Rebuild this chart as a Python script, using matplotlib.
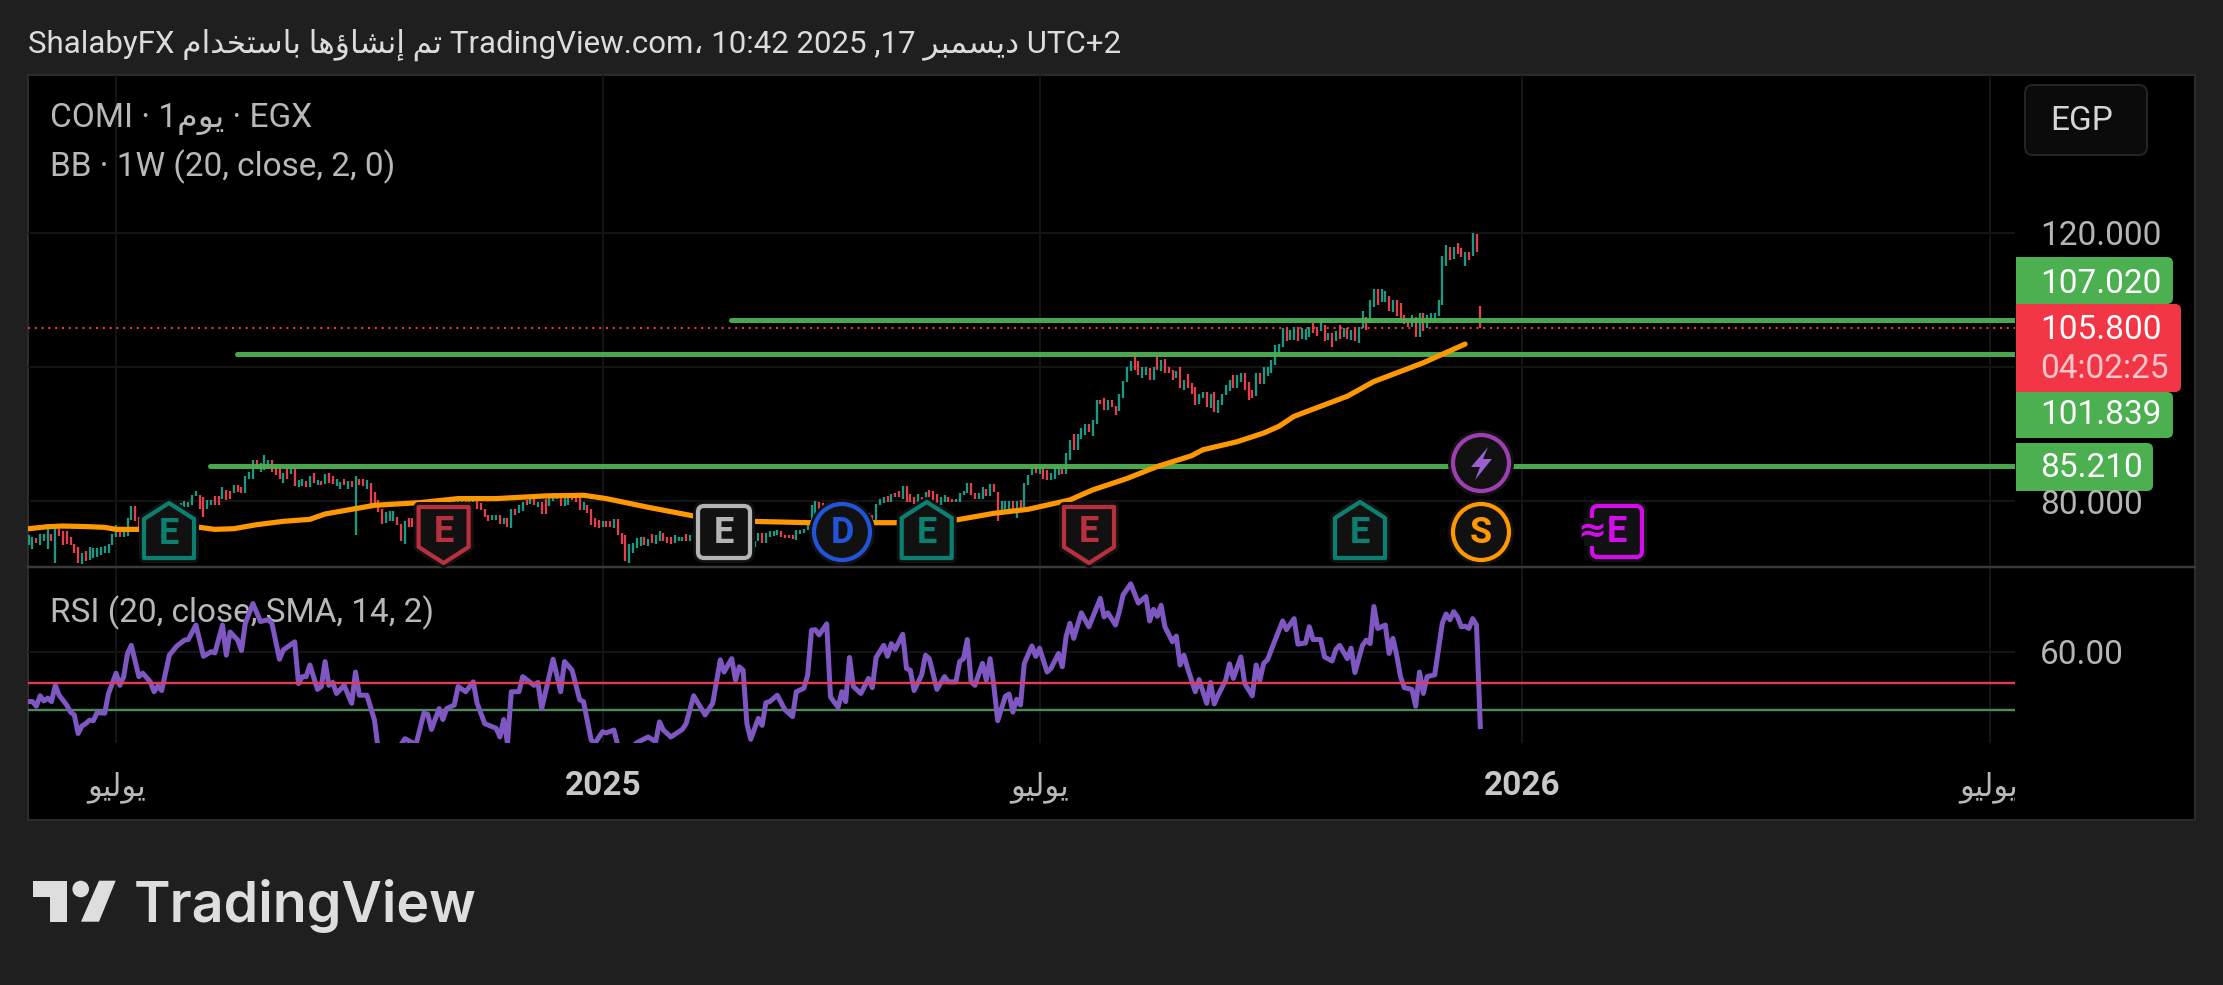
#!/usr/bin/env python3
"""COMI daily chart with RSI pane, TradingView dark snapshot"""

import matplotlib
matplotlib.use("Agg")
import matplotlib.pyplot as plt
from matplotlib.patches import Circle, FancyBboxPatch, Polygon, Rectangle

plt.rcParams['font.family'] = ['Roboto', 'DejaVu Sans']

W, H = 2223, 985
PX = 72 / 100  # one pixel in points at dpi 100

# --- data -------------------------------------------------------------
highs = [
    74.9, 74.5, 74.4, 75.0, 75.0, 75.7, 75.0, 75.7, 75.7, 75.4,
    75.5, 74.6, 73.5, 73.0, 72.1, 72.4, 73.0, 72.9, 72.9, 73.1,
    73.2, 73.5, 75.0, 76.4, 76.0, 75.4, 77.4, 79.2, 79.2, 77.6,
    77.4, 77.6, 77.9, 78.1, 78.3, 78.6, 78.7, 79.0, 79.1, 79.2,
    79.6, 80.0, 79.8, 80.8, 81.4, 80.8, 80.5, 80.1, 80.1, 80.7,
    80.7, 82.0, 81.6, 81.4, 82.3, 82.3, 82.1, 83.7, 84.3, 86.0,
    86.0, 85.6, 86.8, 86.0, 86.0, 85.1, 84.8, 84.2, 84.8, 84.8,
    84.8, 83.1, 83.2, 83.0, 83.7, 84.2, 83.1, 83.0, 84.0, 84.2,
    83.7, 83.3, 82.8, 83.2, 83.0, 83.0, 83.7, 83.3, 83.3, 83.1,
    82.6, 81.3, 80.1, 78.8, 78.3, 78.5, 78.5, 77.6, 76.5, 77.0,
    77.4, 77.4, 77.6, 77.8, 78.1, 78.3, 78.7, 78.8, 79.1, 79.3,
    79.6, 79.8, 80.1, 80.4, 80.5, 80.2, 80.6, 80.7, 80.1, 79.6,
    78.8, 77.8, 77.8, 77.8, 77.8, 77.4, 77.4, 78.7, 78.7, 79.3,
    79.8, 80.1, 80.2, 80.2, 79.8, 79.8, 80.2, 80.5, 81.1, 81.1,
    81.1, 81.2, 81.2, 81.2, 81.0, 80.5, 79.8, 79.3, 78.8, 77.4,
    77.1, 77.0, 76.9, 76.9, 77.2, 77.2, 75.1, 74.9, 73.5, 73.6,
    74.4, 74.5, 74.5, 74.2, 75.0, 74.9, 75.5, 75.1, 74.5, 74.5,
    74.9, 74.5, 74.5, 75.0, 74.9, 75.5, 75.4, 75.5, 75.4, 75.4,
    75.6, 75.6, 75.7, 75.2, 75.4, 75.4, 75.2, 74.7, 74.5, 74.2,
    74.2, 74.0, 75.1, 75.1, 75.2, 75.4, 75.4, 75.6, 75.5, 74.9,
    74.9, 74.9, 75.6, 75.6, 75.7, 77.1, 79.3, 79.9, 79.8, 79.7,
    79.7, 79.3, 79.1, 78.7, 78.3, 78.1, 77.8, 77.6, 77.4, 77.4,
    77.4, 78.1, 77.8, 79.5, 80.2, 80.5, 80.7, 81.0, 81.2, 81.4,
    82.2, 82.2, 81.0, 80.6, 81.0, 80.5, 81.3, 81.6, 81.5, 81.0,
    80.6, 80.8, 80.5, 80.2, 80.3, 81.2, 81.5, 82.7, 82.7, 81.1,
    81.1, 82.0, 81.8, 82.5, 82.5, 81.3, 80.0, 80.0, 80.0, 80.0,
    80.0, 80.1, 82.7, 83.8, 85.3, 85.5, 85.1, 84.8, 84.6, 84.2,
    84.8, 84.8, 84.8, 87.1, 89.1, 90.0, 90.0, 90.8, 91.5, 91.5,
    92.0, 95.0, 95.1, 95.3, 95.0, 95.1, 94.1, 95.9, 97.9, 99.9,
    100.9, 102.1, 100.9, 99.9, 99.9, 99.8, 100.0, 101.5, 101.0, 101.1,
    100.0, 99.5, 99.4, 100.0, 98.1, 98.9, 97.6, 97.0, 96.0, 96.3,
    96.3, 95.9, 96.3, 95.1, 96.0, 97.3, 98.0, 98.8, 98.8, 99.1,
    99.1, 97.8, 96.5, 99.1, 99.1, 99.9, 99.9, 101.0, 103.3, 103.4,
    105.8, 105.8, 105.5, 105.9, 105.9, 105.8, 105.6, 106.0, 106.6, 105.9,
    107.2, 106.2, 105.0, 105.0, 105.3, 106.2, 105.8, 105.8, 105.5, 106.0,
    105.9, 108.4, 107.4, 110.0, 111.7, 111.7, 111.6, 111.4, 110.6, 110.0,
    110.0, 109.5, 107.8, 107.0, 107.7, 107.4, 108.0, 108.0, 107.7, 108.0,
    108.0, 110.0, 116.6, 118.2, 117.9, 117.9, 118.5, 117.7, 117.2, 117.2,
    120.0, 119.9, 109.1,
]
lows = [
    73.4, 72.7, 73.6, 73.4, 74.0, 72.7, 73.9, 70.7, 74.7, 73.4,
    73.5, 73.4, 72.1, 70.6, 70.5, 71.0, 71.1, 71.4, 71.5, 71.9,
    72.1, 72.1, 73.4, 74.6, 74.6, 74.6, 74.7, 77.1, 76.9, 75.4,
    75.9, 76.4, 76.5, 76.7, 77.0, 77.2, 77.6, 77.8, 78.0, 78.2,
    78.6, 79.1, 79.0, 79.3, 80.7, 78.7, 77.6, 78.7, 79.3, 79.3,
    79.3, 80.3, 80.1, 80.2, 81.2, 81.3, 81.2, 81.2, 83.3, 83.3,
    84.8, 84.3, 84.6, 84.8, 84.3, 83.8, 83.3, 82.7, 83.2, 84.0,
    82.2, 82.1, 82.2, 82.1, 82.0, 82.7, 82.3, 82.3, 82.5, 82.6,
    82.5, 82.2, 81.7, 82.3, 81.8, 82.1, 74.9, 82.3, 82.2, 81.8,
    79.5, 79.1, 78.3, 76.5, 76.7, 76.9, 77.0, 76.4, 74.0, 73.5,
    76.0, 76.0, 76.1, 76.4, 76.9, 77.1, 77.4, 77.6, 77.8, 78.1,
    78.3, 78.7, 79.1, 79.6, 79.5, 79.3, 79.3, 79.8, 78.8, 78.6,
    77.6, 77.0, 77.1, 77.1, 76.5, 76.5, 76.0, 75.9, 77.8, 78.2,
    78.5, 79.3, 79.5, 79.3, 79.1, 78.0, 78.0, 79.2, 80.0, 80.3,
    79.2, 79.2, 79.3, 80.1, 79.8, 78.6, 78.6, 78.1, 76.4, 76.0,
    75.9, 76.1, 76.0, 76.0, 75.9, 74.9, 73.5, 71.0, 70.7, 72.1,
    72.9, 73.2, 73.4, 73.2, 73.7, 73.5, 74.0, 73.9, 73.6, 73.5,
    73.7, 73.9, 73.9, 73.9, 74.0, 74.5, 74.2, 74.4, 74.4, 74.2,
    74.5, 74.5, 74.6, 74.1, 74.2, 74.4, 74.2, 73.9, 73.7, 73.4,
    73.1, 73.0, 73.9, 73.7, 73.7, 74.5, 74.7, 74.9, 74.5, 74.4,
    74.4, 74.2, 74.1, 75.0, 75.1, 75.6, 76.4, 77.4, 78.6, 78.6,
    78.8, 78.1, 77.8, 77.4, 77.1, 76.9, 76.6, 76.4, 76.2, 76.4,
    76.5, 76.9, 76.9, 77.1, 79.3, 79.7, 79.8, 79.8, 80.5, 80.6,
    80.2, 79.8, 79.8, 79.5, 79.8, 79.7, 80.3, 80.5, 80.1, 79.6,
    79.3, 79.8, 79.8, 79.8, 79.8, 79.8, 80.8, 81.2, 80.8, 80.2,
    80.3, 80.3, 80.7, 80.7, 81.3, 77.0, 77.8, 78.3, 78.5, 78.3,
    77.4, 78.3, 79.0, 82.3, 83.8, 84.1, 84.0, 83.3, 83.1, 83.1,
    83.3, 83.8, 84.0, 84.0, 86.1, 87.6, 87.6, 89.2, 89.8, 90.3,
    89.6, 91.5, 94.4, 93.5, 93.5, 94.0, 92.8, 93.4, 95.4, 97.8,
    99.4, 99.5, 98.8, 98.3, 98.8, 98.1, 98.1, 99.5, 99.4, 99.0,
    99.0, 98.1, 98.3, 96.9, 96.5, 96.9, 95.9, 94.3, 94.5, 95.3,
    94.0, 93.9, 93.3, 93.1, 94.3, 95.8, 96.4, 96.8, 96.8, 97.8,
    96.5, 95.0, 95.4, 95.6, 97.4, 97.4, 98.6, 99.1, 100.3, 102.0,
    103.0, 103.9, 104.0, 104.0, 103.9, 104.1, 104.0, 104.5, 105.0, 104.6,
    105.3, 103.9, 104.0, 103.0, 103.8, 104.1, 104.4, 104.1, 104.0, 103.9,
    103.6, 105.8, 105.5, 106.6, 109.0, 109.2, 109.7, 109.7, 108.4, 108.2,
    107.6, 106.8, 106.4, 105.9, 105.9, 104.4, 104.4, 105.3, 105.8, 107.0,
    107.0, 107.6, 109.2, 115.0, 116.0, 116.1, 116.9, 116.4, 115.1, 116.0,
    116.5, 117.1, 105.8,
]
bar_dirs = (
    "ggrgggrgrr" "rrrrgrgggg" "ggggrgggrr" "ggrggrggrg" "gggggrrggr"
    "rgrrgrrggg" "rgggrrrgrg" "rggrgrgrgr" "rggrgrgrrg" "rrrrgggrrg"
    "rrgrggrggr" "gggggrggrr" "rrggrgrgrg" "grgrgrrggg" "rggrrrgrrr"
    "rgrrgrrrgg" "ggrgrggrrr" "gggrggggrg" "grgrrgrrrr" "rggrggggrr"
    "rrggggggrr" "grrrrgrrrg" "rgrgggrgrr" "grrrgrgrrr" "ggrrggggrr"
    "ggrgrrgggr" "grgggrgrrg" "ggrggrgggr" "ggrrgrrggg" "grrggrgrgr"
    "rrgrgrrrgg" "rgrggggrgg" "rrrgrggggg" "grggrgggrr" "grgrgrgrgr"
    "ggrggrggrg" "rrrrgrgrgg" "ggggrgrrgr" "grr"
)

# weekly Bollinger basis, bar index and price
bb_idx = [0, 5, 9, 16, 20, 23, 30, 45, 49, 54, 60, 67, 74, 78, 85, 91, 97,
          103, 113, 123, 136, 146, 152, 163, 175, 190, 198, 205, 222, 228,
          244, 254, 263, 274, 280, 289, 297, 306, 309, 318, 325, 329, 333,
          347, 354, 367, 378]
bb_val = [75.8, 76.1, 76.2, 76.1, 76.0, 75.7, 75.7, 76.0, 75.7, 75.8, 76.4,
          76.9, 77.2, 78.0, 78.7, 79.3, 79.5, 79.7, 80.3, 80.3, 80.7, 80.8,
          80.3, 79.0, 77.7, 76.9, 76.8, 76.7, 76.7, 76.7, 77.1, 78.1, 78.7,
          80.1, 81.6, 83.3, 85.1, 86.7, 87.6, 88.8, 90.1, 91.1, 92.6, 95.6,
          97.8, 100.6, 103.4]

rsi_idx = [
    0, 1, 2, 3, 4, 5, 6, 7, 8, 10, 11, 12, 13, 14, 15, 16, 17, 18, 20, 21,
    23, 24, 25, 26, 27, 29, 30, 32, 33, 34, 35, 37, 39, 41, 42, 44, 46, 48, 49, 51,
    52, 53, 55, 56, 57, 59, 61, 63, 64, 66, 67, 70, 71, 72, 73, 74, 76, 77, 78, 79,
    80, 81, 83, 85, 86, 87, 89, 91, 92, 95, 99, 101, 102, 104, 105, 106, 108, 109, 110, 112,
    113, 115, 117, 118, 120, 123, 124, 125, 126, 127, 129, 130, 133, 134, 135, 138, 140, 141, 143, 145,
    146, 148, 149, 151, 152, 154, 155, 158, 160, 163, 165, 166, 167, 169, 172, 173, 175, 178, 180, 182,
    183, 185, 186, 187, 188, 189, 190, 192, 193, 194, 195, 197, 199, 201, 202, 204, 205, 206, 207, 208,
    210, 211, 213, 214, 215, 216, 217, 219, 221, 222, 223, 225, 226, 227, 228, 230, 231, 232, 233, 235,
    236, 237, 239, 241, 242, 244, 245, 246, 247, 248, 249, 251, 252, 253, 254, 255, 257, 258, 259, 260,
    261, 262, 264, 265, 266, 268, 269, 271, 272, 273, 274, 275, 277, 279, 282, 283, 284, 286, 287, 288,
    290, 292, 294, 295, 296, 297, 298, 299, 301, 302, 303, 304, 305, 307, 308, 310, 311, 312, 313, 315,
    316, 317, 319, 320, 322, 323, 324, 325, 326, 328, 330, 331, 333, 334, 336, 337, 338, 340, 341, 343,
    344, 345, 347, 348, 349, 351, 352, 353, 354, 355, 357, 358, 359, 360, 361, 362, 364, 365, 366, 367,
    368, 370, 372, 373, 374, 375, 376, 377, 378, 379, 380, 381, 382,
]
rsi_val = [
    51.4, 51.4, 50.6, 52.4, 51.5, 52.0, 51.4, 54.2, 52.5, 50.8, 49.6, 49.1, 45.9, 47.2, 47.6, 48.2, 48.1, 49.5, 49.4, 52.8,
    56.3, 54.2, 55.7, 59.7, 61.1, 55.7, 56.3, 54.8, 53.1, 54.1, 53.3, 59.4, 61.0, 62.0, 62.1, 64.6, 59.2, 60.0, 59.8, 64.6,
    59.4, 63.4, 62.0, 60.2, 64.9, 68.3, 65.2, 65.5, 64.9, 58.7, 60.3, 61.7, 54.5, 55.7, 55.7, 57.7, 53.5, 54.0, 58.3, 54.2,
    54.7, 52.8, 54.2, 51.1, 56.5, 52.5, 52.5, 48.2, 43.0, 41.0, 45.0, 44.3, 44.2, 49.4, 49.2, 46.6, 50.2, 48.3, 50.2, 50.8,
    54.0, 53.1, 54.8, 51.1, 47.6, 46.8, 45.3, 48.3, 44.2, 53.1, 53.1, 55.7, 54.2, 54.7, 50.2, 58.7, 53.1, 58.3, 56.8, 51.7,
    51.4, 44.8, 44.2, 46.2, 46.0, 46.5, 43.9, 43.0, 44.3, 45.3, 44.5, 47.9, 46.5, 45.3, 46.6, 47.6, 52.4, 49.1, 51.1, 58.6,
    56.5, 58.8, 55.1, 57.4, 56.8, 47.6, 44.9, 48.5, 47.3, 51.2, 51.4, 52.5, 50.0, 48.8, 53.1, 53.7, 56.0, 63.7, 63.8, 62.9,
    64.8, 52.2, 50.4, 53.1, 51.4, 59.0, 54.0, 52.8, 55.4, 53.8, 59.0, 61.1, 59.2, 61.4, 60.4, 63.0, 57.1, 56.8, 53.3, 56.0,
    59.4, 58.8, 53.5, 55.7, 54.8, 54.8, 58.3, 58.8, 62.1, 54.8, 54.2, 58.0, 55.1, 58.8, 54.0, 48.1, 52.3, 52.7, 49.6, 51.8,
    50.8, 58.0, 61.0, 59.2, 60.6, 56.5, 57.1, 59.7, 57.4, 62.6, 64.9, 62.3, 66.7, 64.3, 69.2, 66.0, 66.7, 64.6, 66.9, 69.8,
    71.7, 68.4, 69.5, 65.3, 67.3, 66.1, 68.0, 64.3, 61.7, 62.7, 57.7, 59.4, 57.1, 53.1, 55.2, 51.1, 54.7, 51.0, 52.5, 55.1,
    57.9, 55.4, 59.1, 54.5, 52.4, 57.7, 55.1, 58.0, 58.6, 62.0, 65.3, 63.8, 65.7, 61.3, 61.5, 64.3, 62.1, 62.1, 59.1, 58.4,
    60.4, 61.1, 58.8, 60.6, 56.4, 61.1, 62.0, 61.4, 67.8, 64.0, 64.6, 59.7, 62.3, 59.4, 55.7, 53.8, 53.5, 50.6, 56.5, 52.8,
    55.7, 56.0, 64.9, 66.5, 65.5, 66.9, 66.0, 64.3, 64.4, 64.0, 65.7, 64.6, 47.1,
]

price_grid = [120, 100, 80]
level_vals = [107.02, 101.839, 85.21]
level_start = [184.9, 54.9, 47.7]
last_price = 105.8
rsi_grid = [60]
rsi_upper, rsi_lower = 54.6, 50.0
month_idx = [23, 151, 266, 393, 516]

# --- colours ----------------------------------------------------------
BG = '#1f1f1f'
UP, DOWN = '#1a9a84', '#e2404c'
GREEN, RED = '#4CAF50', '#F23645'
ORANGE = '#FF9800'
GRID = '#141414'
TXT = '#b8b8b8'

# --- arabic: matplotlib does no shaping, so pick presentation forms here
AR_FORMS = {
    'ي': '\uFEF1\uFEF2\uFEF3\uFEF4', 'ل': '\uFEDD\uFEDE\uFEDF\uFEE0',
    'م': '\uFEE1\uFEE2\uFEE3\uFEE4', 'ت': '\uFE95\uFE96\uFE97\uFE98',
    'ن': '\uFEE5\uFEE6\uFEE7\uFEE8', 'ش': '\uFEB5\uFEB6\uFEB7\uFEB8',
    'ه': '\uFEE9\uFEEA\uFEEB\uFEEC', 'ب': '\uFE8F\uFE90\uFE91\uFE92',
    'س': '\uFEB1\uFEB2\uFEB3\uFEB4', 'خ': '\uFEA5\uFEA6\uFEA7\uFEA8',
    'و': '\uFEED\uFEEE', 'إ': '\uFE87\uFE88', 'ا': '\uFE8D\uFE8E',
    'ؤ': '\uFE85\uFE86', 'د': '\uFEA9\uFEAA', 'ر': '\uFEAD\uFEAE',
}


def ar(text):
    """Shape an arabic run and put it in visual order"""
    out = []
    for i, ch in enumerate(text):
        forms = AR_FORMS.get(ch)
        if forms is None:
            out.append(ch)
            continue
        prev_ch = text[i - 1] if i > 0 else ''
        next_ch = text[i + 1] if i + 1 < len(text) else ''
        from_prev = prev_ch in AR_FORMS and len(AR_FORMS[prev_ch]) == 4
        to_next = next_ch in AR_FORMS and len(forms) == 4
        if from_prev and to_next:
            out.append(forms[3])
        elif to_next:
            out.append(forms[2])
        elif from_prev:
            out.append(forms[1])
        else:
            out.append(forms[0])
    return ''.join(out)[::-1]


# --- layout: axes set up from pixel positions of the screenshot -------
PLOT_L, PLOT_R = 28, 2015
BOX_R, BOX_T, BOX_B = 2195, 75, 820
SEP_Y, RSI_B = 567, 742.7
X0_PX, BAR_PX = 28.7, 3.8
Y120_PX, PRICE_PX = 233, 6.69
Y60_PX, RSI_PX = 651.7, 5.8


def px_axes(left, top, right, bottom, zorder):
    ax = fig.add_axes([left / W, 1 - bottom / H, (right - left) / W, (bottom - top) / H])
    ax.set_axis_off()
    ax.set_zorder(zorder)
    return ax


fig = plt.figure(figsize=(W / 100, H / 100), dpi=100, facecolor=BG)

back = px_axes(0, 0, W, H, 0)
back.set_xlim(0, W)
back.set_ylim(H, 0)
back.add_patch(Rectangle((28, BOX_T), BOX_R - 28, BOX_B - BOX_T, fc='black', ec='#2c2c2c', lw=2 * PX))

ax = px_axes(PLOT_L, BOX_T, PLOT_R, SEP_Y, 1)
ax.set_xlim((PLOT_L - X0_PX) / BAR_PX, (PLOT_R - X0_PX) / BAR_PX)
ax.set_ylim(120 - (SEP_Y - Y120_PX) / PRICE_PX, 120 + (Y120_PX - BOX_T) / PRICE_PX)

ax_rsi = px_axes(PLOT_L, SEP_Y, PLOT_R, RSI_B, 1)
ax_rsi.set_xlim(ax.get_xlim())
ax_rsi.set_ylim(60 - (RSI_B - Y60_PX) / RSI_PX, 60 + (Y60_PX - SEP_Y) / RSI_PX)

# --- price pane -------------------------------------------------------
xmin, xmax = ax.get_xlim()
ax.hlines(price_grid, xmin, xmax, color=GRID, lw=2 * PX, zorder=1)
ax.vlines(month_idx, *ax.get_ylim(), color=GRID, lw=2 * PX, zorder=1)
ax.hlines(last_price, xmin, xmax, color=RED, lw=2 * PX, linestyles=[(0, (1, 2.4))], zorder=2)

bar_x = list(range(len(highs)))
bar_colors = [UP if d == 'g' else DOWN for d in bar_dirs]
ax.vlines(bar_x, lows, highs, colors=bar_colors, lw=2.3 * PX, capstyle='butt', zorder=3)

for val, start in zip(level_vals, level_start):
    ax.plot([start, xmax + 5], [val, val], color=GREEN, lw=5 * PX, solid_capstyle='round',
            alpha=0.97, zorder=4)
ax.plot(bb_idx, bb_val, color=ORANGE, lw=5.2 * PX, solid_capstyle='round', solid_joinstyle='round', zorder=5)

# --- rsi pane ---------------------------------------------------------
ax_rsi.vlines(month_idx, *ax_rsi.get_ylim(), color=GRID, lw=2 * PX, zorder=1)
ax_rsi.hlines(rsi_grid, xmin, xmax, color=GRID, lw=2 * PX, zorder=1)
ax_rsi.text(50 / W, 1 - 612.5 / H, 'RSI (20, close, SMA, 14, 2)', transform=fig.transFigure,
            color=TXT, fontsize=24, va='center', zorder=1.5)
ax_rsi.hlines(rsi_lower, xmin, xmax, color='#4f8a5b', lw=2.4 * PX, zorder=2)
ax_rsi.plot(rsi_idx, rsi_val, color='#7E57C2', lw=5 * PX, solid_joinstyle='round', zorder=3)
ax_rsi.hlines(rsi_upper, xmin, xmax, color='#e33b55', lw=2.4 * PX, zorder=4)

# --- overlay: scale labels, badges and header -------------------------
top = px_axes(0, 0, W, H, 5)
top.set_xlim(0, W)
top.set_ylim(H, 0)
top.plot([28, BOX_R], [SEP_Y, SEP_Y], color='#3a3a3a', lw=2.5 * PX, zorder=1)


def label(x, y, s, color=TXT, size=24, **kw):
    kw.setdefault('va', 'center')
    top.text(x, y, s, color=color, fontsize=size, **kw)


def price_box(x1, y0, y1, color):
    top.add_patch(FancyBboxPatch((2016, y0), x1 - 2016, y1 - y0, boxstyle='round,pad=0,rounding_size=6',
                                 fc=color, ec='none', zorder=2))
    top.add_patch(Rectangle((2016, y0), 10, y1 - y0, fc=color, ec='none', zorder=2))


def badge_shape(make, color):
    top.add_patch(make(fc='#111111', ec='#111111', lw=10 * PX, zorder=3))
    top.add_patch(make(fc='#111111', ec=color, lw=4.2 * PX, zorder=3.1))


def house(cx, y0, y1, color):
    pts = [(cx, y0), (cx + 25, y0 + 16), (cx + 25, y1), (cx - 25, y1), (cx - 25, y0 + 16)]
    badge_shape(lambda **kw: Polygon(pts, closed=True, joinstyle='round', **kw), color)
    label(cx, (y0 + y1) / 2 + 3, 'E', color, 26, ha='center', zorder=4, weight='bold')


def shield(cx, y0, y1, color):
    pts = [(cx - 25, y0), (cx + 25, y0), (cx + 25, y1 - 16), (cx, y1), (cx - 25, y1 - 16)]
    badge_shape(lambda **kw: Polygon(pts, closed=True, joinstyle='round', **kw), color)
    label(cx, (y0 + y1) / 2 - 3, 'E', color, 26, ha='center', zorder=4, weight='bold')


def square(cx, y0, y1, hw, color):
    badge_shape(lambda **kw: FancyBboxPatch((cx - hw, y0), 2 * hw, y1 - y0,
                                            boxstyle='round,pad=0,rounding_size=6', **kw), color)
    label(cx, (y0 + y1) / 2 + 1, 'E', color, 26, ha='center', zorder=4, weight='bold')


def disc(cx, cy, r, color, s=None):
    badge_shape(lambda **kw: Circle((cx, cy), r, **kw), color)
    if s:
        label(cx, cy + 1, s, color, 26, ha='center', zorder=4, weight='bold')


price_box(2173, 257, 304, GREEN)
price_box(2173, 392, 438, GREEN)
price_box(2153, 443, 491, GREEN)
price_box(2181, 304, 392, RED)
label(2040, 236, '120.000', '#b4b4b4')
label(2040, 505, '80.000', '#b4b4b4')
label(2040, 284, '107.020', 'white')
label(2040, 330, '105.800', 'white')
label(2040, 369, '04:02:25', '#fbc6cb')
label(2040, 415, '101.839', 'white')
label(2040, 468, '85.210', 'white')
label(2040, 655, '60.00', '#b4b4b4')

top.add_patch(FancyBboxPatch((2025, 85), 122, 70, boxstyle='round,pad=0,rounding_size=8',
                             fc='#0b0b0b', ec='#242424', lw=2 * PX))
label(2050, 121, 'EGP', '#d6d6d6')

house(169, 503, 558, '#0c8070')
shield(443.6, 507, 563, '#b8303e')
square(724, 506, 558, 26, '#b4b4b4')
disc(842, 532, 28, '#2154d8', 'D')
house(926.7, 502, 558, '#0c8070')
shield(1089, 507, 563, '#b8303e')
house(1360, 502, 558, '#0c8070')
disc(1481, 532, 28, '#FF9800', 'S')
disc(1481, 463, 28, '#9c3fb0')
top.add_patch(Polygon([(1488, 447), (1471, 467), (1480, 467), (1475, 480), (1492, 459), (1483, 459)],
                      closed=True, fc='#9c5fd0', ec='none', zorder=4))
square(1617, 506, 557, 25, '#d30ceb')
top.add_patch(Rectangle((1584, 518), 14, 28, fc='#111111', ec='none', zorder=3.5))
label(1592, 532, '≈', '#d30ceb', 25, ha='center', zorder=4, family=['DejaVu Sans'], weight='bold')

label(28, 45, 'ShalabyFX ' + ar('تم إنشاؤها باستخدام') + ' TradingView.com، 10:42 2025 ,17 '
      + ar('ديسمبر') + ' UTC+2', '#dcdcdc', 22.5)
label(50, 119, 'COMI · 1' + ar('يوم') + ' · EGX')
label(50, 167, 'BB · 1W (20, close, 2, 0)')

# time axis
july = ar('يوليو')
label(116.5, 787, july, size=22, ha='center')
label(603, 786, '2025', '#c8c8c8', ha='center', weight='bold')
label(1040, 787, july, size=22, ha='center')
label(1522, 786, '2026', '#c8c8c8', ha='center', weight='bold')
label(1989, 787, july, size=22, ha='center')
top.add_patch(Rectangle((PLOT_R, 770), 60, 35, fc='black', ec='none', zorder=5))

# logo
LOGO = '#dedede'
top.add_patch(Polygon([(33.3, 880.7), (66.7, 880.7), (66.7, 921.7), (50, 921.7), (50, 896.7), (33.3, 896.7)],
                      closed=True, fc=LOGO, ec='none'))
top.add_patch(Circle((80.7, 889), 8.3, fc=LOGO, ec='none'))
top.add_patch(Polygon([(99, 880.7), (115.7, 880.7), (99, 921.7), (81, 921.7)], closed=True, fc=LOGO, ec='none'))
label(134, 921.7, 'TradingView', LOGO, 40, va='baseline', family=['Inter', 'Roboto'], weight='semibold')

fig.savefig('out.png', dpi=100, facecolor=fig.get_facecolor())
